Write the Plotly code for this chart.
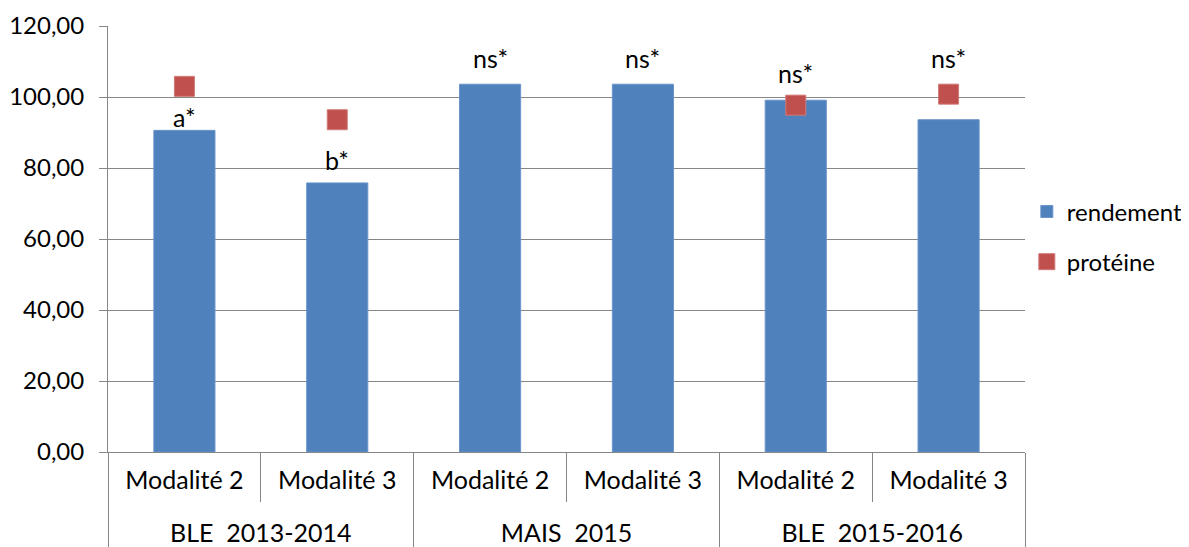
import plotly.graph_objects as go

groups = ["BLE\u00a0 2013-2014", "BLE\u00a0 2013-2014", "MAIS\u00a0 2015", "MAIS\u00a0 2015",
          "BLE\u00a0 2015-2016", "BLE\u00a0 2015-2016"]
modalities = ["Modalité 2", "Modalité 3", "Modalité 2", "Modalité 3", "Modalité 2", "Modalité 3"]
rendement = [90.6, 75.8, 103.6, 103.6, 99.1, 93.6]
proteine = [103.0, 93.6, None, None, 97.7, 100.8]
labels = ["a*", "b*", "ns*", "ns*", "ns*", "ns*"]
label_shift = [-4, 6, 9, 9, 10, 45]

FONT = "Lato, Calibri, Carlito, sans-serif"
GRID = "#868686"
BIG = "<span style='font-size:25px'>{}</span>"

# multicategory labels: outer level pushed down by small line breaks
outer = ["<br><br>" + BIG.format(g) for g in groups]
inner = [BIG.format(m) for m in modalities]

fig = go.Figure()
fig.add_trace(go.Bar(
    x=[outer, inner], y=rendement, name="rendement",
    marker=dict(color="#4F81BD", line=dict(color="#6A95CB", width=1)),
    legendgroup="r",
))
fig.add_trace(go.Scatter(
    x=[outer, inner], y=proteine, name="protéine", mode="markers",
    marker=dict(symbol="square", size=20, color="#C0504D", line=dict(color="#D07A78", width=1)),
    legendgroup="p",
))

for g, m, v, t, s in zip(outer, inner, rendement, labels, label_shift):
    fig.add_annotation(x=[g, m], y=v, text=t, showarrow=False, yanchor="bottom",
                       yshift=s, font=dict(size=25, color="black", family=FONT))

fig.update_layout(
    width=1181, height=539,
    margin=dict(l=100, r=164, t=18, b=95, autoexpand=False),
    plot_bgcolor="white", paper_bgcolor="white",
    separators=", ",
    bargap=0.6,
    font=dict(family=FONT, size=25, color="black"),
    showlegend=True,
    legend=dict(x=1.002, y=0.505, xanchor="left", yanchor="middle",
                font=dict(size=24), tracegroupgap=16, itemwidth=30),
)
fig.update_yaxes(range=[0, 120], dtick=20, tickformat=".2f", showgrid=True,
                 gridcolor=GRID, gridwidth=1, showline=True, linecolor=GRID, linewidth=1,
                 ticks="outside", ticklen=8, tickcolor=GRID, zeroline=False,
                 tickfont=dict(size=24), ticklabelstandoff=10, automargin=False)
fig.update_xaxes(type="multicategory", showline=True, linecolor=GRID, linewidth=1,
                 ticks="outside", tickson="boundaries", ticklen=49, tickcolor=GRID,
                 showdividers=True, dividercolor=GRID, dividerwidth=1,
                 tickfont=dict(size=15), ticklabelstandoff=18, automargin=False)

fig.write_html("out.html")
